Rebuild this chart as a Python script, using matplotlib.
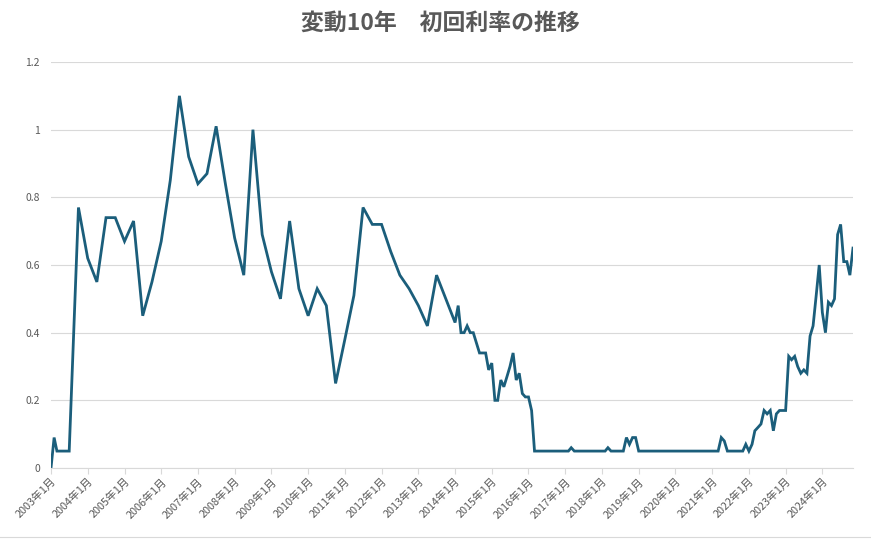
import pandas as pd
import matplotlib.pyplot as plt
import matplotlib.dates as mdates
from matplotlib.ticker import FuncFormatter
from matplotlib.lines import Line2D

plt.rcParams['font.family'] = ['Noto Sans CJK JP', 'DejaVu Sans']

# 発行月と初回利率(%)
months = [
    '2003-01', '2003-02', '2003-03', '2003-07', '2003-10',
    '2004-01', '2004-04', '2004-07', '2004-10',
    '2005-01', '2005-04', '2005-07', '2005-10',
    '2006-01', '2006-04', '2006-07', '2006-10',
    '2007-01', '2007-04', '2007-07', '2007-10',
    '2008-01', '2008-04', '2008-07', '2008-10',
    '2009-01', '2009-04', '2009-07', '2009-10',
    '2010-01', '2010-04', '2010-07', '2010-10',
    '2011-01', '2011-04', '2011-07', '2011-10',
    '2012-01', '2012-04', '2012-07', '2012-10',
    '2013-01', '2013-04', '2013-07', '2013-10',
    '2014-01', '2014-02', '2014-03', '2014-04', '2014-05', '2014-06',
    '2014-07', '2014-09', '2014-10', '2014-11', '2014-12',
    '2015-01', '2015-02', '2015-03', '2015-04', '2015-05', '2015-06',
    '2015-07', '2015-08', '2015-09', '2015-10', '2015-11', '2015-12',
    '2016-01', '2016-02', '2016-03',
    '2017-02', '2017-03', '2017-04',
    '2018-02', '2018-03', '2018-04',
    '2018-08', '2018-09', '2018-10', '2018-11', '2018-12', '2019-01',
    '2021-03', '2021-04', '2021-05', '2021-06',
    '2021-11', '2021-12', '2022-01', '2022-02', '2022-03', '2022-04',
    '2022-05', '2022-06', '2022-07', '2022-08', '2022-09', '2022-10',
    '2022-11', '2022-12', '2023-01', '2023-02', '2023-03', '2023-04',
    '2023-05', '2023-06', '2023-07', '2023-08', '2023-09', '2023-10',
    '2023-11', '2023-12', '2024-01', '2024-02', '2024-03', '2024-04',
    '2024-05', '2024-06', '2024-07', '2024-08', '2024-09', '2024-10',
    '2024-11',
]
rates = [
    0.00, 0.09, 0.05, 0.05, 0.77,
    0.62, 0.55, 0.74, 0.74,
    0.67, 0.73, 0.45, 0.55,
    0.67, 0.85, 1.10, 0.92,
    0.84, 0.87, 1.01, 0.84,
    0.68, 0.57, 1.00, 0.69,
    0.58, 0.50, 0.73, 0.53,
    0.45, 0.53, 0.48, 0.25,
    0.38, 0.51, 0.77, 0.72,
    0.72, 0.64, 0.57, 0.53,
    0.48, 0.42, 0.57, 0.50,
    0.43, 0.48, 0.40, 0.40, 0.42, 0.40,
    0.40, 0.34, 0.34, 0.34, 0.29,
    0.31, 0.20, 0.20, 0.26, 0.24, 0.27,
    0.30, 0.34, 0.26, 0.28, 0.22, 0.21,
    0.21, 0.17, 0.05,
    0.05, 0.06, 0.05,
    0.05, 0.06, 0.05,
    0.05, 0.09, 0.07, 0.09, 0.09, 0.05,
    0.05, 0.09, 0.08, 0.05,
    0.05, 0.07, 0.05, 0.07, 0.11, 0.12,
    0.13, 0.17, 0.16, 0.17, 0.11, 0.16,
    0.17, 0.17, 0.17, 0.33, 0.32, 0.33,
    0.30, 0.28, 0.29, 0.28, 0.39, 0.42,
    0.51, 0.60, 0.46, 0.40, 0.49, 0.48,
    0.50, 0.69, 0.72, 0.61, 0.61, 0.57,
    0.65,
]
yticks = [0, 0.2, 0.4, 0.6, 0.8, 1.0, 1.2]
title = '変動10年　初回利率の推移'

dates = pd.to_datetime(months)

fig = plt.figure(figsize=(8.71, 5.39), dpi=100)
ax = fig.add_axes([51/871, 1-468/539, (853-51)/871, (468-62)/539])

ax.plot(dates, rates, color='#1b5e7b', lw=2.0, solid_joinstyle='miter')

ax.set_ylim(0, 1.2)
ax.set_xlim(dates[0], dates[-1])
ax.set_yticks(yticks)
ax.yaxis.set_major_formatter(FuncFormatter(lambda v, p: f'{v:g}'))
ax.xaxis.set_major_locator(mdates.YearLocator(1, month=1, day=1))
ax.xaxis.set_major_formatter(FuncFormatter(
    lambda v, p: f'{mdates.num2date(v).year}年1月'))

ax.grid(axis='y', color='#d9d9d9', lw=0.8)
ax.set_axisbelow(True)
for s in ['top', 'right', 'left']:
    ax.spines[s].set_visible(False)
ax.spines['bottom'].set_color('#d9d9d9')
ax.spines['bottom'].set_linewidth(0.8)

ax.tick_params(axis='y', length=0, pad=8, labelsize=7.5, labelcolor='#595959')
ax.tick_params(axis='x', length=4, color='#d9d9d9', width=0.8, pad=2,
               labelsize=7.8, labelcolor='#595959')
for lab in ax.get_xticklabels():
    lab.set_rotation(45)
    lab.set_ha('right')
    lab.set_rotation_mode('anchor')

fig.text(440/871, 1-23/539, title, ha='center', va='center', fontsize=16.5,
         fontweight='bold', color='#595959')

fig.add_artist(Line2D([0, 1], [1-537/539, 1-537/539], color='#d9d9d9', lw=0.8))

fig.savefig('out.png', dpi=100)
